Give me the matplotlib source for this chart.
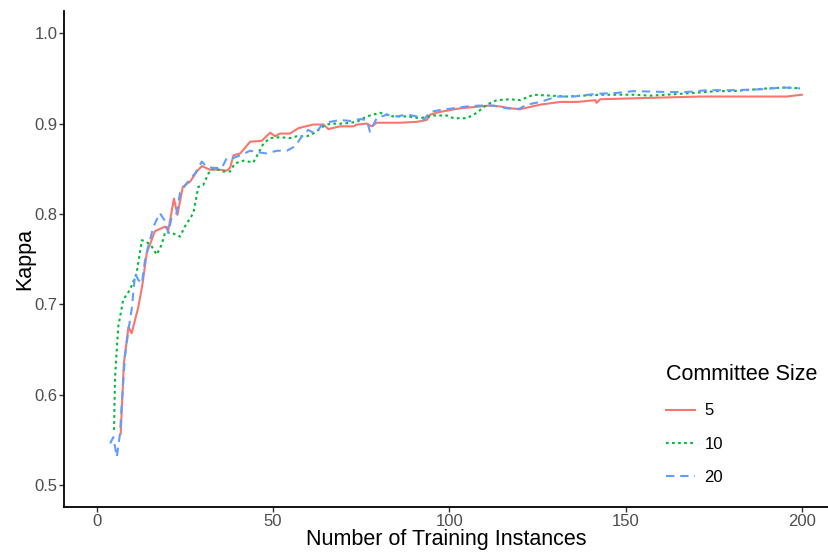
import numpy as np
import matplotlib
matplotlib.use('Agg')
import matplotlib.pyplot as plt

# ---- data ----
x_5 = [6.8, 7.7, 9.0, 9.9, 11.8, 13.0, 14.2, 16.5, 19.4, 20.3, 21.9, 22.9, 24.4, 26.5, 28.4,
       29.8, 32.1, 35.0, 36.9, 37.8, 38.8, 40.7, 43.5, 46.8, 49.2, 50.6, 52.0, 54.8, 57.2, 61.4,
       64.3, 65.7, 69.0, 72.8, 73.8, 76.6, 78.0, 79.4, 86.0, 90.8, 93.6, 94.6, 97.4, 103.1, 108.7,
       111.6, 114.4, 117.2, 120.1, 125.8, 131.4, 136.2, 141.4, 141.8, 142.8, 152.2, 161.7, 171.2,
       180.6, 190.1, 195.7, 200.0]
y_5 = [0.557, 0.635, 0.675, 0.668, 0.697, 0.723, 0.757, 0.781, 0.786, 0.782, 0.817, 0.799, 0.830,
       0.836, 0.847, 0.853, 0.849, 0.849, 0.848, 0.851, 0.865, 0.867, 0.880, 0.881, 0.890, 0.886,
       0.889, 0.889, 0.895, 0.899, 0.899, 0.894, 0.897, 0.897, 0.899, 0.900, 0.897, 0.901, 0.901,
       0.902, 0.904, 0.910, 0.913, 0.917, 0.919, 0.920, 0.919, 0.917, 0.916, 0.921, 0.924, 0.924,
       0.926, 0.923, 0.927, 0.928, 0.929, 0.930, 0.930, 0.930, 0.930, 0.932]

x_10 = [4.9, 5.2, 6.1, 7.5, 9.4, 11.3, 12.8, 14.2, 15.6, 17.0, 18.4, 19.4, 21.3, 23.6, 25.0, 27.4,
        28.8, 30.2, 31.7, 33.1, 35.9, 37.8, 39.2, 41.6, 44.4, 45.4, 47.3, 49.2, 52.0, 54.8, 56.7,
        59.6, 61.4, 64.3, 66.2, 70.0, 73.8, 76.6, 80.3, 84.1, 87.9, 91.7, 95.5, 99.3, 101.2, 105.0,
        107.8, 110.6, 113.5, 117.2, 120.1, 123.9, 128.6, 133.3, 138.0, 142.8, 152.2, 157.0, 161.7,
        169.3, 175.9, 180.6, 190.1, 195.7, 199.5]
y_10 = [0.561, 0.620, 0.675, 0.705, 0.716, 0.734, 0.771, 0.769, 0.764, 0.755, 0.766, 0.780, 0.779,
        0.775, 0.786, 0.801, 0.830, 0.832, 0.845, 0.851, 0.847, 0.847, 0.856, 0.859, 0.857, 0.864,
        0.878, 0.884, 0.885, 0.884, 0.886, 0.886, 0.889, 0.897, 0.900, 0.900, 0.902, 0.908, 0.912,
        0.908, 0.908, 0.906, 0.909, 0.909, 0.906, 0.906, 0.912, 0.921, 0.926, 0.927, 0.926, 0.932,
        0.931, 0.930, 0.931, 0.932, 0.932, 0.931, 0.932, 0.934, 0.936, 0.936, 0.939, 0.940, 0.939]

x_20 = [3.8, 4.7, 5.7, 6.6, 7.1, 8.0, 9.0, 9.9, 10.9, 11.8, 12.8, 13.7, 14.6, 16.1, 17.9, 19.4,
        20.3, 21.3, 22.7, 23.6, 25.5, 27.9, 29.8, 31.2, 33.1, 35.5, 36.9, 38.8, 40.7, 43.5, 46.3,
        48.2, 51.1, 53.9, 56.3, 58.2, 60.0, 61.9, 63.8, 66.2, 69.0, 71.9, 74.7, 76.6, 77.5, 79.4,
        82.3, 85.1, 87.9, 90.8, 92.7, 94.6, 97.4, 101.2, 105.0, 108.7, 112.5, 116.3, 119.6, 122.0,
        125.8, 130.5, 135.2, 141.8, 147.5, 152.2, 161.7, 167.4, 173.1, 180.6, 188.2, 194.8, 199.5]
y_20 = [0.546, 0.553, 0.531, 0.557, 0.590, 0.642, 0.672, 0.694, 0.734, 0.727, 0.723, 0.749, 0.764,
        0.786, 0.801, 0.792, 0.779, 0.797, 0.801, 0.823, 0.834, 0.845, 0.858, 0.852, 0.851, 0.851,
        0.862, 0.862, 0.865, 0.870, 0.868, 0.867, 0.870, 0.870, 0.875, 0.886, 0.893, 0.889, 0.898,
        0.902, 0.904, 0.903, 0.905, 0.904, 0.891, 0.906, 0.910, 0.908, 0.910, 0.908, 0.904, 0.913,
        0.915, 0.917, 0.919, 0.920, 0.920, 0.917, 0.916, 0.921, 0.924, 0.930, 0.930, 0.933, 0.934,
        0.936, 0.935, 0.935, 0.937, 0.937, 0.938, 0.940, 0.939]

x_ticks = [0, 50, 100, 150, 200]
y_ticks = [0.5, 0.6, 0.7, 0.8, 0.9, 1.0]

# ggplot default hues
C5, C10, C20 = '#F8766D', '#00BA38', '#619CFF'
TICK_GREY = '#4D4D4D'

plt.rcParams['font.family'] = ['Liberation Sans', 'DejaVu Sans']

fig = plt.figure(figsize=(8.29, 5.53), dpi=100)
ax = fig.add_axes([64.3 / 829, 46.3 / 553, 1 - 64.3 / 829, (506.7 - 10.7) / 553])

ax.plot(x_5, y_5, color=C5, lw=1.5, ls='-', label='5')
ax.plot(x_10, y_10, color=C10, lw=1.5, ls=(0, (1.3, 1.6)), label='10')
ax.plot(x_20, y_20, color=C20, lw=1.5, ls=(0, (4, 2.8)), label='20')

ax.set_xlim(-9.2, 207.7)
ax.set_ylim(0.476, 1.025)
ax.set_xticks(x_ticks)
ax.set_yticks(y_ticks)
ax.set_yticklabels([f'{v:.1f}' for v in y_ticks])

for side in ['top', 'right']:
    ax.spines[side].set_visible(False)
for side in ['left', 'bottom']:
    ax.spines[side].set_linewidth(1.3)
    ax.spines[side].set_color('black')
ax.tick_params(axis='both', length=3.5, width=1.0, color='#333333',
               labelcolor=TICK_GREY, labelsize=12, pad=1.5)

ax.set_xlabel('Number of Training Instances', fontsize=15.5, labelpad=0)
ax.set_ylabel('Kappa', fontsize=15.5)
ax.yaxis.set_label_coords(-0.0377, 0.5)

leg = ax.legend(title='Committee Size', frameon=False, fontsize=12, title_fontsize=15.5,
                loc='upper left', bbox_to_anchor=(666 / 829, 1 - 364 / 553),
                bbox_transform=fig.transFigure, borderpad=0, borderaxespad=0,
                handlelength=1.75, handletextpad=0.55, labelspacing=1.1,
                alignment='left')

fig.savefig('out.png', dpi=100)
